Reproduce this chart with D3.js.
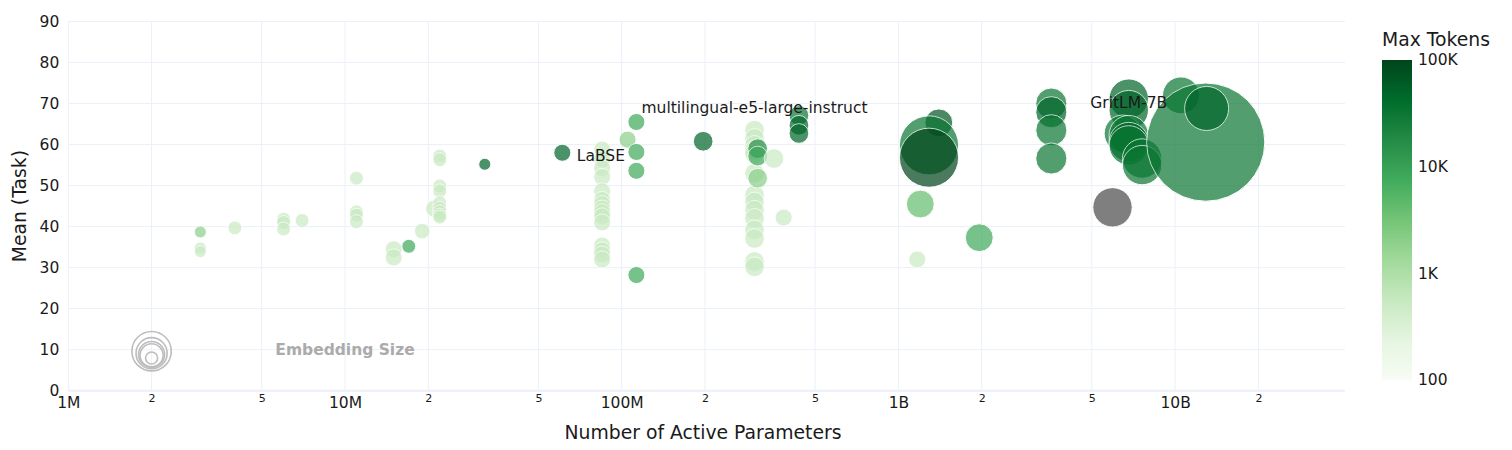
<!DOCTYPE html>
<html>
<head>
<meta charset="utf-8">
<script src="https://cdn.jsdelivr.net/npm/d3@7"></script>
<style>
  html, body { margin: 0; padding: 0; background: #fff; }
  svg { display: block; font-family: "DejaVu Sans", Verdana, sans-serif; }
</style>
</head>
<body>
<svg id="chart" width="1512" height="450"></svg>
<script>
// ---------------- DATA ----------------
const params = [
  3e6, 3e6, 3e6, 4e6, 6e6, 6e6, 6e6, 7e6,
  11e6, 11e6, 11e6, 11e6, 15e6, 15e6, 17e6, 19e6, 21e6,
  22e6, 22e6, 22e6, 22e6, 22e6, 22e6, 22e6, 22e6, 22e6,
  32e6, 61e6,
  85e6, 85e6, 85e6, 85e6, 85e6, 85e6, 85e6, 85e6, 85e6, 85e6, 85e6, 85e6, 85e6, 85e6, 85e6,
  105e6, 113e6, 113e6, 113e6, 113e6, 197e6,
  302e6, 302e6, 302e6, 302e6, 302e6, 302e6, 302e6, 302e6, 302e6, 302e6, 302e6, 302e6, 302e6, 302e6,
  310e6, 310e6, 310e6, 355e6, 385e6, 437e6, 437e6, 437e6,
  1.17e9, 1.2e9, 1.96e9, 1.4e9, 1.29e9, 1.29e9,
  3.57e9, 3.57e9, 3.57e9, 3.57e9, 5.94e9,
  6.8e9, 6.8e9, 6.46e9, 6.8e9, 6.8e9, 6.8e9, 7.6e9, 7.6e9,
  10.5e9, 12.9e9, 13e9
];
const meanScore = [
  38.7, 34.8, 33.9, 39.7, 41.8, 41.0, 39.4, 41.5,
  51.8, 43.6, 42.8, 41.2, 34.5, 32.5, 35.2, 38.9, 44.4,
  57.2, 56.3, 49.9, 48.7, 45.8, 44.5, 43.6, 42.8, 42.3,
  55.2, 58.0,
  58.8, 56.4, 54.2, 52.1, 48.6, 46.5, 45.5, 44.4, 43.5, 42.5, 41.0, 35.4, 34.2, 33.2, 32.0,
  61.2, 65.5, 58.2, 53.6, 28.2, 60.8,
  63.5, 61.5, 59.8, 58.6, 57.8, 53.0, 47.7, 46.0, 44.0, 42.0, 39.2, 37.1, 31.5, 30.2,
  59.0, 57.2, 51.8, 56.6, 42.2, 67.1, 64.7, 62.7,
  32.0, 45.5, 37.3, 65.3, 59.8, 56.8,
  70.0, 67.9, 63.5, 56.6, 44.7,
  71.2, 68.4, 62.7, 62.3, 60.6, 59.8, 56.6, 55.0,
  72.0, 60.6, 68.8
];
const embedDim = [
  384, 384, 384, 512, 512, 512, 512, 512,
  512, 512, 512, 512, 768, 768, 512, 640, 768,
  512, 512, 512, 512, 512, 512, 512, 512, 512,
  384, 768,
  768, 768, 768, 768, 768, 768, 768, 768, 768, 768, 768, 768, 768, 768, 768,
  768, 768, 768, 768, 768, 1024,
  1024, 1024, 1024, 1024, 1024, 1024, 1024, 1024, 1024, 1024, 1024, 1024, 1024, 1024,
  1024, 1024, 1024, 1024, 768, 1024, 1024, 1024,
  768, 2048, 2048, 2048, 9216, 9216,
  2560, 2560, 2560, 2560, 4096,
  4096, 4096, 3584, 4096, 4096, 4096, 4096, 4096,
  3584, 36864, 5120
];
const maxTokens = [
  2048, 512, 512, 512, 512, 512, 512, 512,
  512, 512, 512, 512, 512, 512, 8192, 512, 512,
  512, 512, 512, 512, 512, 512, 512, 512, 512,
  50000, 50000,
  512, 512, 512, 512, 512, 512, 512, 512, 512, 512, 512, 512, 512, 512, 512,
  2048, 8192, 8192, 8192, 8192, 50000,
  512, 512, 512, 512, 512, 512, 512, 512, 512, 512, 512, 512, 512, 512,
  16384, 8192, 2048, 512, 512, 32768, 50000, 50000,
  512, 4096, 8192, 65536, 32768, 100000,
  32768, 50000, 32768, 32768, null,
  50000, 50000, 32768, 32768, 50000, 32768, 32768, 32768,
  32768, 32768, 50000
];
const pointLabel = params.map(() => "");
pointLabel[27] = "LaBSE";
pointLabel[49] = "multilingual-e5-large-instruct";
pointLabel[85] = "GritLM-7B";
const labelPosition = params.map(() => "");
labelPosition[27] = "middle right";
labelPosition[49] = "top center";
labelPosition[85] = "top center";

const xMajorTicks = [1e6, 1e7, 1e8, 1e9, 1e10];
const xMajorLabels = ["1M", "10M", "100M", "1B", "10B"];
const xMinorTicks = [2e6, 5e6, 2e7, 5e7, 2e8, 5e8, 2e9, 5e9, 2e10];
const xMinorLabels = ["2", "5", "2", "5", "2", "5", "2", "5", "2"];
const yTicks = [0, 10, 20, 30, 40, 50, 60, 70, 80, 90];
const colorbarTicks = [100, 1000, 10000, 100000];
const colorbarLabels = ["100", "1K", "10K", "100K"];
const sizeLegendDims = [4096, 2560, 1792, 1408, 384];
const greens = ["rgb(247,252,245)", "rgb(229,245,224)", "rgb(199,233,192)", "rgb(161,217,155)",
  "rgb(116,196,118)", "rgb(65,171,93)", "rgb(35,139,69)", "rgb(0,109,44)", "rgb(0,68,27)"];

// ---------------- LAYOUT ----------------
const svg = d3.select("#chart");
const L = 68.3, R = 1345, T = 21.5, B = 390.7;
const x = d3.scaleLog().domain([1e6, Math.pow(10, 6 + (R - L) / 276.7)]).range([L, R]);
const y = d3.scaleLinear().domain([0, 90]).range([B, T]);
const r = d3.scaleSqrt().domain([0, 4096]).range([0, 19.7]);
const cLog = d3.scaleLinear().domain([2, 5]).range([0, 1]).clamp(true);
const cInterp = d3.scaleLinear().domain(d3.range(9).map(i => i / 8)).range(greens).interpolate(d3.interpolateRgb);
const colorOf = v => v == null ? "#4a4a4a" : cInterp(cLog(Math.log10(v)));
const gridColor = "#EBF0F8";
const textColor = "#1a1a1a";

// grid
const grid = svg.append("g");
grid.selectAll("line.v").data(xMajorTicks.concat(xMinorTicks).filter(d => d <= x.domain()[1]))
  .join("line").attr("class", "v")
  .attr("x1", d => x(d)).attr("x2", d => x(d)).attr("y1", T).attr("y2", B)
  .attr("stroke", gridColor).attr("stroke-width", 1);
grid.selectAll("line.h").data(yTicks)
  .join("line").attr("class", "h")
  .attr("x1", L).attr("x2", R).attr("y1", d => y(d)).attr("y2", d => y(d))
  .attr("stroke", gridColor).attr("stroke-width", d => d === 0 ? 2 : 1);

// axes labels (via d3 axes, then styled)
const yAxis = svg.append("g").attr("transform", `translate(${L},0)`)
  .call(d3.axisLeft(y).tickValues(yTicks).tickSize(0).tickPadding(9));
const xMajor = svg.append("g").attr("transform", `translate(0,${B})`)
  .call(d3.axisBottom(x).tickValues(xMajorTicks).tickFormat((d, i) => xMajorLabels[i]).tickSize(0).tickPadding(6));
const xMinor = svg.append("g").attr("transform", `translate(0,${B})`)
  .call(d3.axisBottom(x).tickValues(xMinorTicks).tickFormat((d, i) => xMinorLabels[i]).tickSize(0).tickPadding(4));
[yAxis, xMajor, xMinor].forEach(g => { g.select(".domain").remove(); g.selectAll("text").attr("fill", textColor); });
yAxis.selectAll("text").style("font-size", "15.5px").style("font-family", "DejaVu Sans");
xMajor.selectAll("text").style("font-size", "15.5px").style("font-family", "DejaVu Sans");
xMinor.selectAll("text").style("font-size", "11px").style("font-family", "DejaVu Sans");

svg.append("text").attr("transform", `translate(19,${(T + B) / 2}) rotate(-90)`)
  .attr("text-anchor", "middle").attr("dy", "0.35em").attr("fill", textColor)
  .style("font-size", "18.8px").text("Mean (Task)");
svg.append("text").attr("x", 703).attr("y", 439)
  .attr("text-anchor", "middle").attr("fill", textColor)
  .style("font-size", "18.8px").text("Number of Active Parameters");

// size legend
svg.append("g").selectAll("circle").data(sizeLegendDims).join("circle")
  .attr("cx", x(2e6)).attr("cy", d => y(10) + 1.5 + (r(sizeLegendDims[0]) - r(d)) * 0.5)
  .attr("r", d => r(d)).attr("fill", "none").attr("stroke", "#bdbdbd").attr("stroke-width", 1.6);
svg.append("text").attr("x", x(1e7)).attr("y", y(10)).attr("dy", "0.35em")
  .attr("text-anchor", "middle").attr("fill", "#ababab").style("font-weight", "bold")
  .style("font-size", "15.5px").text("Embedding Size");

// points
const idx = d3.range(params.length);
svg.append("g").selectAll("circle").data(idx).join("circle")
  .attr("cx", i => x(params[i])).attr("cy", i => y(meanScore[i])).attr("r", i => r(embedDim[i]))
  .attr("fill", i => colorOf(maxTokens[i])).attr("stroke", "#fff").attr("stroke-width", 1)
  .attr("opacity", 0.7);

// point labels
svg.append("g").selectAll("text").data(idx.filter(i => pointLabel[i])).join("text")
  .attr("x", i => labelPosition[i] === "middle right" ? x(params[i]) + r(embedDim[i]) + 6 : x(params[i]))
  .attr("y", i => labelPosition[i] === "middle right" ? y(meanScore[i]) + 3.2 : y(meanScore[i]) - r(embedDim[i]) - 7.7)
  .attr("dy", i => labelPosition[i] === "middle right" ? "0.35em" : 0)
  .attr("text-anchor", i => labelPosition[i] === "middle right" ? "start" : "middle")
  .attr("fill", textColor).style("font-size", "15.5px").text(i => pointLabel[i]);

// colorbar
const cbX = 1382, cbW = 30, cbTop = 60, cbBot = 380;
const grad = svg.append("defs").append("linearGradient").attr("id", "cbGrad")
  .attr("x1", 0).attr("y1", 1).attr("x2", 0).attr("y2", 0);
grad.selectAll("stop").data(greens).join("stop")
  .attr("offset", (d, i) => i / 8).attr("stop-color", d => d);
svg.append("rect").attr("x", cbX).attr("y", cbTop).attr("width", cbW).attr("height", cbBot - cbTop)
  .attr("fill", "url(#cbGrad)");
const cbScale = d3.scaleLog().domain([100, 100000]).range([cbBot, cbTop]);
const cbAxis = svg.append("g").attr("transform", `translate(${cbX + cbW},0)`)
  .call(d3.axisRight(cbScale).tickValues(colorbarTicks).tickFormat((d, i) => colorbarLabels[i]).tickSize(0).tickPadding(6));
cbAxis.select(".domain").remove();
cbAxis.selectAll("text").attr("fill", textColor).style("font-size", "15.5px").style("font-family", "DejaVu Sans");
svg.append("text").attr("x", cbX).attr("y", 46).attr("fill", textColor)
  .style("font-size", "18.8px").text("Max Tokens");
</script>
</body>
</html>
